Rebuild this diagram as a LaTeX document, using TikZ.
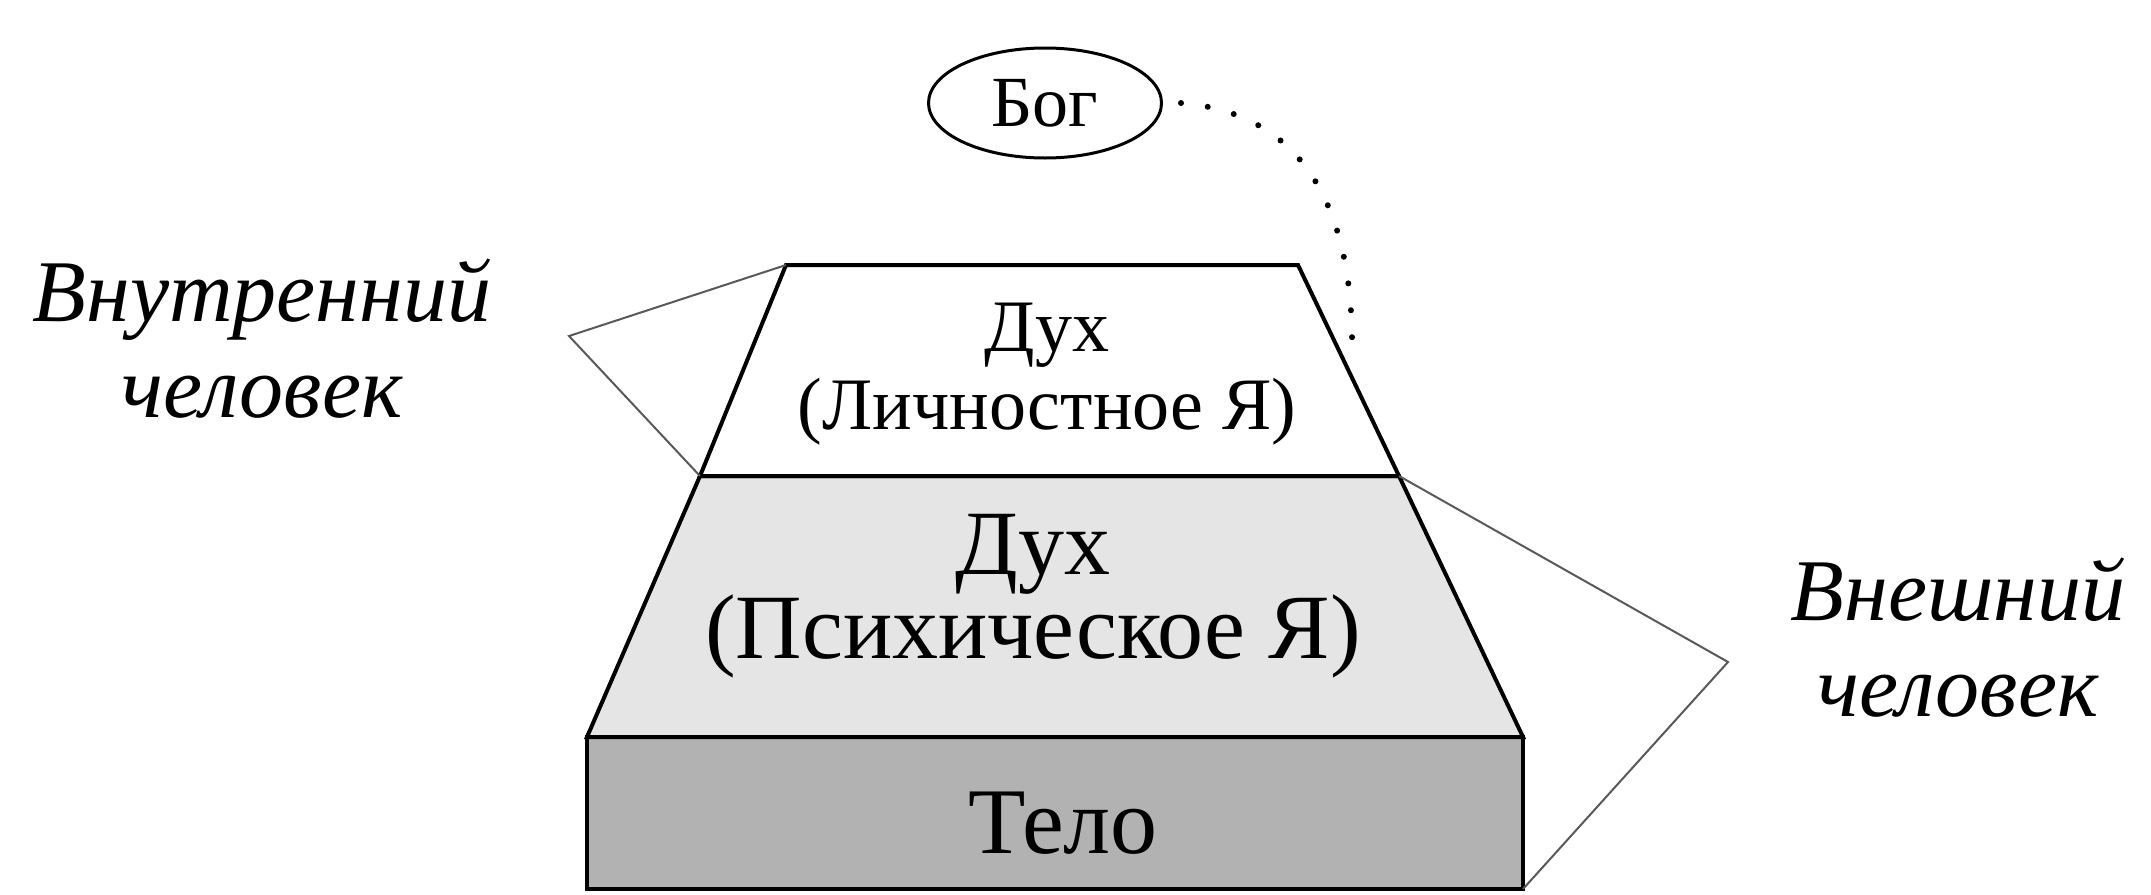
\documentclass[tikz,border=0pt]{standalone}
\usepackage{fontspec}
\setmainfont{Liberation Serif}
\usetikzlibrary{shapes.geometric}
\definecolor{midgray}{gray}{0.90}
\definecolor{darkgray}{gray}{0.70}
\definecolor{bracketgray}{gray}{0.35}
\begin{document}
\begin{tikzpicture}[x=1pt,y=-1pt,
  layer/.style={draw=black,line width=4pt,line join=miter},
  bracket/.style={draw=bracketgray,line width=2pt},
  txt/.style={inner sep=0pt,align=center,text=black},
  lbl/.style={inner sep=0pt,align=center,font=\itshape\fontsize{88}{96}\selectfont}]
\useasboundingbox (0,0) rectangle (2151,894);
% corners
\coordinate (t1) at (786,265);
\coordinate (t2) at (1298,265);
\coordinate (m1) at (700,476);
\coordinate (m2) at (1399,476);
\coordinate (b1) at (587,737);
\coordinate (b2) at (1523,737);
\coordinate (r1) at (587,889);
\coordinate (r2) at (1523,889);
\coordinate (lv) at (569,336);
\coordinate (rv) at (1728,662);
\coordinate (dend) at (1352,357);
% layers
\path[layer,fill=darkgray] (b1) -- (b2) -- (r2) -- (r1) -- cycle;
\path[layer,fill=midgray] (m1) -- (m2) -- (b2) -- (b1) -- cycle;
\path[layer,fill=white] (t1) -- (t2) -- (m2) -- (m1) -- cycle;
% texts
\node[txt,font=\fontsize{74}{78}\selectfont] (spirit1) at (1047,374) {Дух\\(Личностное Я)};
\node[txt,font=\fontsize{92}{84}\selectfont] (spirit2) at (1033,596) {Дух\\(Психическое Я)};
\node[txt,font=\fontsize{94}{100}\selectfont] (body) at (1063,823) {Тело};
% God
\node[draw,ellipse,line width=3pt,minimum width=233pt,minimum height=110pt,inner sep=0pt,
  font=\fontsize{72}{76}\selectfont] (god) at (1045,103) {Бог};
\draw[line width=6pt,line cap=round,dash pattern=on 0pt off 27pt]
  (god.east) ++(18,0) .. controls (1290,112) and (1355,190) .. (dend);
% brackets
\draw[bracket] (t1) -- (lv) -- (m1);
\draw[bracket] (m2) -- (rv) -- (r2);
% labels
\node[lbl] (inner) at (262,339) {Внутренний\\человек};
\node[lbl] (outer) at (1958,638) {Внешний\\человек};
\end{tikzpicture}
\end{document}
